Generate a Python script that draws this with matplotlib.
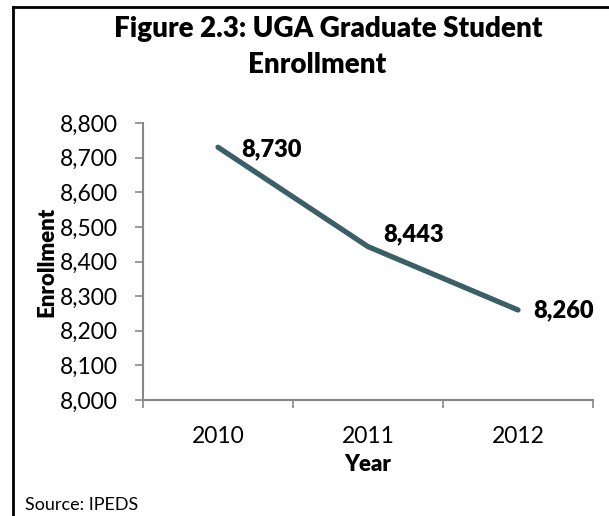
import matplotlib
matplotlib.use('Agg')
import matplotlib.pyplot as plt
from matplotlib.lines import Line2D
from matplotlib.ticker import FuncFormatter, FixedLocator

# dados do grafico
years = ['2010', '2011', '2012']
enrollment = [8730, 8443, 8260]
y_ticks = [8000, 8100, 8200, 8300, 8400, 8500, 8600, 8700, 8800]

plt.rcParams['font.family'] = ['Lato', 'DejaVu Sans']

W, H = 609, 516
fig = plt.figure(figsize=(W / 100, H / 100), dpi=100)
ax = fig.add_axes([143 / W, 1 - 400 / H, 450 / W, 277 / H])

x = list(range(len(years)))
ax.plot(x, enrollment, color='#3b5f66', linewidth=3.8, solid_capstyle='round')

# deslocamento de cada rotulo (pontos)
label_offsets = [(17, -1.5), (11, 8.5), (11, 0)]
for xi, v, off in zip(x, enrollment, label_offsets):
    ax.annotate(f'{v:,}', (xi, v), xytext=off, textcoords='offset points',
                ha='left', va='center', fontsize=17, fontweight='heavy')

ax.set_xlim(-0.5, len(years) - 0.5)
ax.set_ylim(y_ticks[0], y_ticks[-1])
ax.set_yticks(y_ticks)
ax.yaxis.set_major_formatter(FuncFormatter(lambda v, p: f'{int(v):,}'))

# ticks do eixo x entre as categorias, rotulos no centro
ax.xaxis.set_major_locator(FixedLocator([i - 0.5 for i in range(len(years) + 1)]))
ax.xaxis.set_major_formatter(FuncFormatter(lambda v, p: ''))
ax.xaxis.set_minor_locator(FixedLocator(x))
ax.set_xticklabels(years, minor=True)
ax.tick_params(axis='x', which='minor', length=0, pad=19, labelsize=16.5)
ax.tick_params(axis='x', which='major', length=6, width=1.2, color='#868686', direction='out')
ax.tick_params(axis='y', length=6, width=1.2, color='#868686', direction='out', labelsize=16.5, pad=12)

for side in ['top', 'right']:
    ax.spines[side].set_visible(False)
for side in ['left', 'bottom']:
    ax.spines[side].set_color('#868686')
    ax.spines[side].set_linewidth(1.5)

ax.set_xlabel('Year', fontsize=16, fontweight='heavy', labelpad=5)
ax.set_ylabel('Enrollment', fontsize=16, fontweight='heavy')
ax.yaxis.set_label_coords((57 - 143) / 450, 0.5)

fig.text(328 / W, 1 - 37 / H, 'Figure 2.3: UGA Graduate Student', ha='center', va='baseline',
         fontsize=20, fontweight='heavy')
fig.text(317 / W, 1 - 73 / H, 'Enrollment', ha='center', va='baseline',
         fontsize=20, fontweight='heavy')
fig.text(25 / W, 1 - 505 / H, 'Source: IPEDS', ha='left', va='center', fontsize=13)

# moldura (so esquerda e topo aparecem)
fig.add_artist(Line2D([13 / W, 13 / W], [0, 1 - 7 / H], color='black', linewidth=2))
fig.add_artist(Line2D([13 / W, 1], [1 - 7 / H, 1 - 7 / H], color='black', linewidth=2))

fig.savefig('out.png', dpi=100)
